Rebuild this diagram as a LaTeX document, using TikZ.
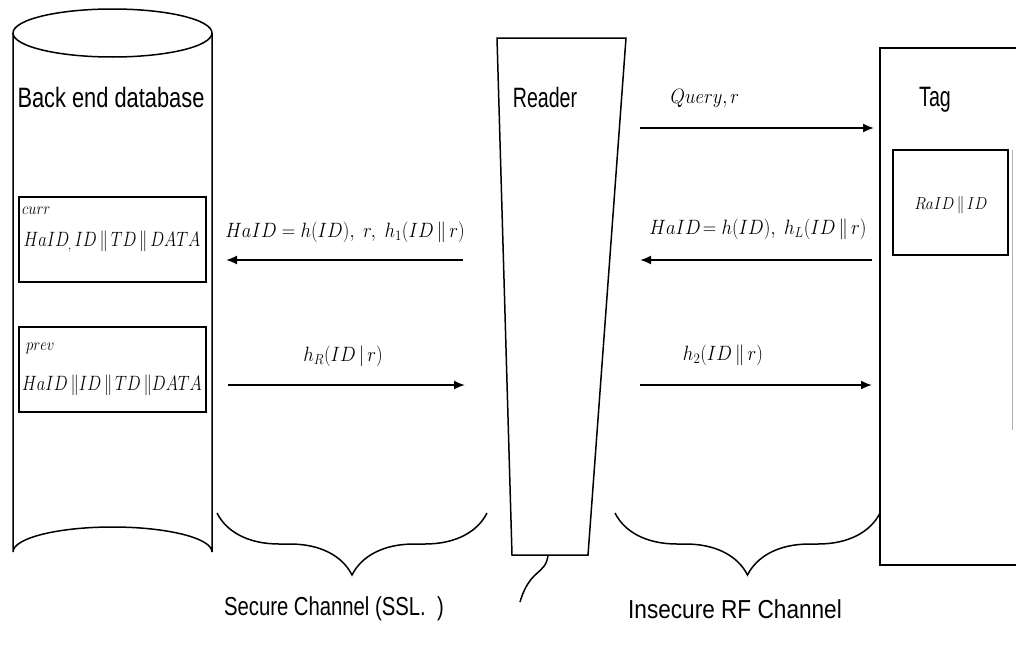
\documentclass[tikz,border=0pt]{standalone}
\usepackage{fontspec}
\usepackage{graphicx}
\setmainfont{Liberation Sans}
\usetikzlibrary{arrows.meta,decorations.pathreplacing}
\newcommand{\squeeze}[2]{\scalebox{#1}[1]{#2}}
\tikzset{
  outline/.style={draw=black, line width=1.5pt},
  msgarrow/.style={line width=1.8pt, -{Latex[length=11pt,width=9pt]}},
  title/.style={font=\fontsize{28}{32}\selectfont, inner sep=0pt},
  msg/.style={font=\fontsize{22}{26}\selectfont, inner sep=0pt},
  small/.style={font=\fontsize{19}{22}\selectfont, inner sep=0pt, anchor=west},
  chan/.style={font=\fontsize{26}{30}\selectfont, inner sep=0pt},
  chbrace/.style={line width=1.5pt, decorate, decoration={brace, mirror, amplitude=62pt}}
}
\begin{document}
\begin{tikzpicture}[x=1pt, y=-1pt]
\useasboundingbox (0,0) rectangle (1016,645);
\fill[white] (0,0) rectangle (1016,645);

% back end database (cylinder)
\draw[outline] (112.5,33) ellipse [x radius=99.5, y radius=24];
\draw[outline] (13,33) -- (13,552) arc [start angle=180, end angle=360, x radius=99.5, y radius=25] -- (212,33);
\node[title] (db) at (111,97) {\squeeze{0.78}{Back end database}};

\node[outline, minimum width=187pt, minimum height=85pt, inner sep=0pt] (curr) at (112.5,239.5) {};
\node[small] (currlbl) at (22,211) {\squeeze{0.85}{$curr$}};
\node[msg] (currtxt) at (112,242) {\squeeze{0.8}{$HaID\,_{\!\!,}\,ID\,\|\,TD\,\|\,DATA$}};

\node[outline, minimum width=187pt, minimum height=85pt, inner sep=0pt] (prev) at (112.5,369.5) {};
\node[small] (prevlbl) at (26,348) {\squeeze{0.85}{$prev$}};
\node[msg] (prevtxt) at (112,385) {\squeeze{0.8}{$HaID\,\|ID\,\|\,TD\,\|DATA$}};

% reader
\draw[outline] (497,38) -- (626,38) -- (588,555) -- (512,555) -- cycle;
\node[title] (reader) at (545,97) {\squeeze{0.7}{Reader}};
\coordinate (rbot) at (548,555);
\coordinate (rtail) at (520,602);
\draw[line width=1.5pt] (rbot) .. controls (546,575) and (530,568) .. (rtail);

% tag
\draw[outline] (1016,48) -- (880,48) -- (880,565) -- (1016,565);
\draw[gray!60, line width=0.8pt] (1012,150) -- (1012,430);
\node[title] (tag) at (935,100) {\squeeze{0.7}{Tag}};
\node[outline, minimum width=115pt, minimum height=105pt, inner sep=0pt] (tagmem) at (950.5,202.5) {};
\node[msg, font=\fontsize{19}{22}\selectfont] (tagtxt) at (951,205) {\squeeze{0.88}{$RaID\,\|\,ID$}};

% message end points
\coordinate (rdQ) at (640,128);   \coordinate (tgQ) at (874,128);
\coordinate (tgA) at (872,260);   \coordinate (rdA) at (640,260);
\coordinate (rdB) at (640,385);   \coordinate (tgB) at (872,385);
\coordinate (rdC) at (463,260);   \coordinate (dbC) at (226,260);
\coordinate (dbD) at (228,385);   \coordinate (rdD) at (465,385);

\draw[msgarrow] (rdQ) -- (tgQ);
\node[msg] (lq) at (705,98) {\squeeze{0.9}{$Query,r$}};
\draw[msgarrow] (tgA) -- (rdA);
\node[msg] (la) at (758,229) {\squeeze{0.9}{$HaID\!=h(ID),\ h_L(ID\,\|\,r)$}};
\draw[msgarrow] (rdB) -- (tgB);
\node[msg] (lb) at (723,355) {\squeeze{0.9}{$h_2(ID\,\|\,r)$}};
\draw[msgarrow] (rdC) -- (dbC);
\node[msg] (lc) at (345,232) {\squeeze{0.9}{$HaID=h(ID),\ r,\ h_1(ID\,\|\,r)$}};
\draw[msgarrow] (dbD) -- (rdD);
\node[msg] (ld) at (343,356) {\squeeze{0.9}{$h_R(ID\,{\mid}\,r)$}};

% channels
\coordinate (sL) at (217,513); \coordinate (sR) at (487,513);
\coordinate (iL) at (615,513); \coordinate (iR) at (880,513);
\draw[chbrace] (sL) -- (sR);
\draw[chbrace] (iL) -- (iR);
\node[chan] (secure) at (334,609) {\squeeze{0.78}{Secure Channel (SSL.\ \ )}};
\node[chan] (insecure) at (735,609) {\squeeze{0.87}{Insecure RF Channel}};
\end{tikzpicture}
\end{document}
